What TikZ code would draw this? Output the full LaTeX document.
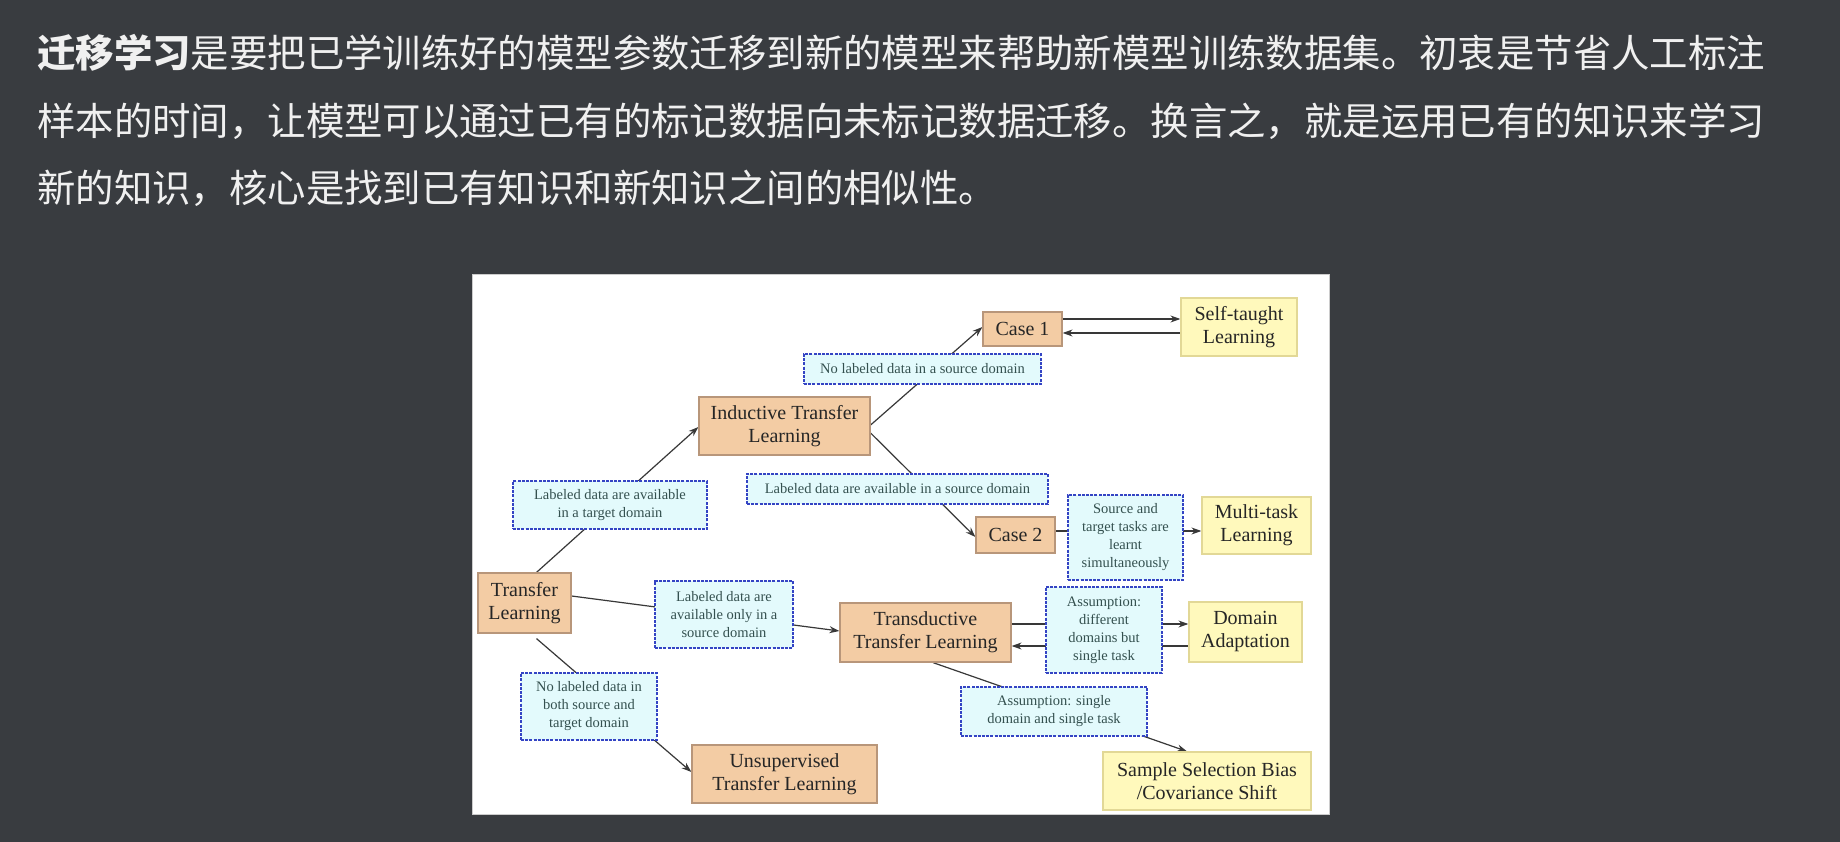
\documentclass[tikz,border=0pt]{standalone}
\usepackage{fontspec}
\setmainfont{Liberation Serif}
\newfontfamily\cjk{Noto Sans CJK SC}
\usetikzlibrary{arrows.meta}
\pgfdeclarelayer{bg}
\pgfdeclarelayer{edges}
\pgfsetlayers{bg,edges,main}

\definecolor{slate}{HTML}{393C40}
\definecolor{headtext}{HTML}{F0F0F0}
\definecolor{tanfill}{HTML}{F3CCA4}
\definecolor{tanedge}{HTML}{B8967A}
\definecolor{yelfill}{HTML}{FFF9BC}
\definecolor{yeledge}{HTML}{E2D896}
\definecolor{lcyan}{HTML}{E3FAFC}
\definecolor{lblue}{HTML}{3444C4}
\definecolor{lbltext}{HTML}{34504F}
\definecolor{wire}{HTML}{383838}

\begin{document}
\begin{tikzpicture}[x=1pt,y=-1pt,
  sz/.style 2 args={minimum width=#1pt, minimum height=#2pt},
  tanbox/.style={draw=tanedge, fill=tanfill, line width=1.2pt, align=center,
    inner sep=2pt, text=black!85, font=\fontsize{20}{23}\selectfont},
  ybox/.style={draw=yeledge, fill=yelfill, line width=1.2pt, align=center,
    inner sep=2pt, text=black!85, font=\fontsize{20}{23}\selectfont},
  lbox/.style={draw=lblue, fill=lcyan, line width=1.6pt, dash pattern=on 3pt off 1.2pt,
    align=center, inner sep=2pt, text=lbltext, font=\fontsize{14.5}{18}\selectfont},
  arr/.style={draw=wire, line width=1.2pt, -{Stealth[length=10pt,width=7pt]}},
  headline/.style={anchor=west, inner sep=0pt, text=headtext, font=\cjk\fontsize{38.4}{40}\selectfont}
]
\useasboundingbox (0,0) rectangle (1840,842);

\begin{pgfonlayer}{bg}
  \fill[slate] (0,0) rectangle (1840,842);
  \filldraw[fill=white, draw=black!20, line width=1pt] (472,275) rectangle (1329,814);
\end{pgfonlayer}

% heading paragraph
\node[headline] (h1) at (37,53) {{\bfseries 迁移学习}是要把已学训练好的模型参数迁移到新的模型来帮助新模型训练数据集。初衷是节省人工标注};
\node[headline] (h2) at (37,121) {样本的时间，让模型可以通过已有的标记数据向未标记数据迁移。换言之，就是运用已有的知识来学习};
\node[headline] (h3) at (37,188) {新的知识，核心是找到已有知识和新知识之间的相似性。};

% learning settings
\node[tanbox, sz={93}{60}]  (tl)    at (524.5,603) {Transfer\\Learning};
\node[tanbox, sz={171}{58}] (itl)   at (784.5,426) {Inductive Transfer\\Learning};
\node[tanbox, sz={79}{34}]  (case1) at (1022.5,329) {Case 1};
\node[tanbox, sz={79}{36}]  (case2) at (1015.5,535) {Case 2};
\node[tanbox, sz={171}{59}] (ttl)   at (925.5,632.5) {Transductive\\Transfer Learning};
\node[tanbox, sz={185}{58}] (utl)   at (784.5,774) {Unsupervised\\Transfer Learning};

% resulting methods
\node[ybox, sz={116}{58}] (stl) at (1239,327) {Self-taught\\Learning};
\node[ybox, sz={109}{57}] (mtl) at (1256.5,525.5) {Multi-task\\Learning};
\node[ybox, sz={113}{60}] (da)  at (1245.5,632) {Domain\\Adaptation};
\node[ybox, sz={208}{58}] (ssb) at (1207,781) {Sample Selection Bias\\/Covariance Shift};

% conditions on the connectors
\node[lbox, sz={194}{48}] (l1) at (610,505) {Labeled data are available\\in a target domain};
\node[lbox, sz={237}{30}] (l2) at (922.5,369) {No labeled data in a source domain};
\node[lbox, sz={301}{30}] (l3) at (897.5,489) {Labeled data are available in a source domain};
\node[lbox, sz={115}{85}] (l4) at (1125.5,537.5) {Source and\\target tasks are\\learnt\\simultaneously};
\node[lbox, sz={138}{67}] (l5) at (724,614.5) {Labeled data are\\available only in a\\source domain};
\node[lbox, sz={136}{67}] (l6) at (589,706.5) {No labeled data in\\both source and\\target domain};
\node[lbox, sz={116}{86}] (l7) at (1104,630) {Assumption:\\different\\domains but\\single task};
\node[lbox, sz={186}{49}] (l8) at (1054,711.5) {Assumption: single\\domain and single task};

\begin{pgfonlayer}{edges}
  \draw[arr] ([xshift=12pt]tl.north) -- ([yshift=-1pt]itl.west);
  \draw[arr] ([yshift=1pt]itl.east) -- ([yshift=2pt]case1.west);
  \draw[arr] ([yshift=-7pt]itl.east) -- ([yshift=-2pt]case2.west);
  \draw[arr] ([yshift=10pt]case1.east) -- ([yshift=10pt]case1.east -| stl.west);
  \draw[arr] ([yshift=-4pt]case1.east -| stl.west) -- ([yshift=-4pt]case1.east);
  \draw[arr] ([yshift=4pt]case2.east) -- ([yshift=4pt]case2.east -| mtl.west);
  \draw[arr] ([yshift=7pt]tl.east) -- ([yshift=1.5pt]ttl.west);
  \draw[arr] ([xshift=12pt,yshift=-5pt]tl.south) -- ([yshift=2pt]utl.west);
  \draw[arr] ([yshift=8.5pt]ttl.east) -- ([yshift=8.5pt]ttl.east -| da.west);
  \draw[arr] ([yshift=-13.5pt]ttl.east -| da.west) -- ([yshift=-13.5pt]ttl.east);
  \draw[arr] ([xshift=7.5pt]ttl.south) -- ([xshift=-20pt]ssb.north);
\end{pgfonlayer}
\end{tikzpicture}
\end{document}
